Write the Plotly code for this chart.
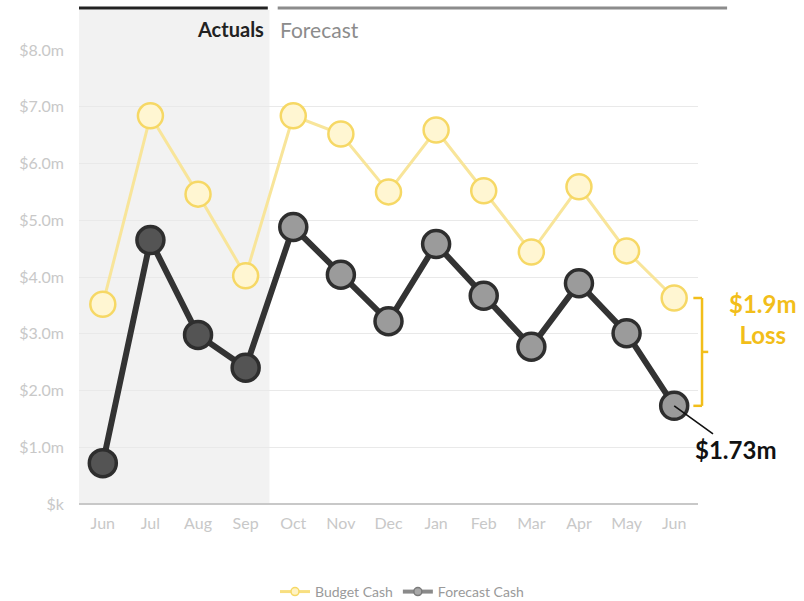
import plotly.graph_objects as go

# Monthly cash figures ($m), Jun through the following Jun
months = ["Jun", "Jul", "Aug", "Sep", "Oct", "Nov", "Dec",
          "Jan", "Feb", "Mar", "Apr", "May", "Jun"]
budget_cash = [3.52, 6.84, 5.46, 4.02, 6.84, 6.52, 5.50,
               6.59, 5.52, 4.44, 5.59, 4.46, 3.63]
forecast_cash = [0.72, 4.65, 2.98, 2.40, 4.88, 4.04, 3.22,
                 4.58, 3.67, 2.77, 3.89, 3.01, 1.73]
n_actual = 4  # first four months are actuals, the rest forecast

y_tickvals = [0, 1, 2, 3, 4, 5, 6, 7, 8]
y_ticktext = ["$k", "$1.0m", "$2.0m", "$3.0m", "$4.0m",
              "$5.0m", "$6.0m", "$7.0m", "$8.0m"]

FONT = "Lato"
GOLD = "#F2BE1A"
xs = list(range(len(months)))

fig = go.Figure()

# Budget line
fig.add_trace(go.Scatter(
    x=xs, y=budget_cash, mode="lines+markers", showlegend=False,
    line=dict(color="#F8E59A", width=3),
    marker=dict(size=25, color="#FFF6D2",
                line=dict(color="#F6D865", width=2.5)),
    hoverinfo="skip",
))

# Forecast line (actual months darker)
fill_cols = ["#545454" if i < n_actual else "#9B9B9B" for i in xs]
fig.add_trace(go.Scatter(
    x=xs, y=forecast_cash, mode="lines+markers", showlegend=False,
    line=dict(color="#333333", width=6),
    marker=dict(size=27, color=fill_cols,
                line=dict(color="#2E2E2E", width=3.5)),
    hoverinfo="skip",
))

# Legend entries
fig.add_trace(go.Scatter(
    x=[None], y=[None], mode="lines+markers", name="Budget Cash",
    line=dict(color="#F8DF80", width=3),
    marker=dict(size=8, color="#FFF3C4", line=dict(color="#F6D865", width=1.5)),
))
fig.add_trace(go.Scatter(
    x=[None], y=[None], mode="lines+markers", name="Forecast Cash",
    line=dict(color="#8A8A8A", width=4),
    marker=dict(size=8, color="#A8A8A8", line=dict(color="#7A7A7A", width=1.5)),
))

shapes = []
# Shaded actuals period
shapes.append(dict(type="rect", xref="x", yref="paper",
                   x0=-0.5, x1=n_actual - 0.5, y0=0, y1=1.088,
                   fillcolor="#F2F2F2", line=dict(width=0), layer="below"))
# Period header bars
shapes.append(dict(type="line", xref="paper", yref="paper",
                   x0=0, x1=0.305, y0=1.0925, y1=1.0925,
                   line=dict(color="#222222", width=3)))
shapes.append(dict(type="line", xref="paper", yref="paper",
                   x0=0.321, x1=1.047, y0=1.0925, y1=1.0925,
                   line=dict(color="#8C8C8C", width=3)))

# Loss bracket between budget and forecast in the final month
top = budget_cash[-1]
bot = forecast_cash[-1]
mid = (top + bot) / 2
bx = 1.0065
shapes.append(dict(type="line", xref="paper", yref="y",
                   x0=bx, x1=bx, y0=bot, y1=top,
                   line=dict(color=GOLD, width=2.5)))
shapes.append(dict(type="line", xref="paper", yref="y",
                   x0=bx - 0.014, x1=bx, y0=top, y1=top,
                   line=dict(color=GOLD, width=2.5)))
shapes.append(dict(type="line", xref="paper", yref="y",
                   x0=bx - 0.014, x1=bx, y0=bot, y1=bot,
                   line=dict(color=GOLD, width=2.5)))
shapes.append(dict(type="line", xref="paper", yref="y",
                   x0=bx, x1=bx + 0.01, y0=mid, y1=mid,
                   line=dict(color=GOLD, width=2.5)))

annotations = [
    dict(xref="x", yref="paper", x=n_actual - 0.5, y=1.046,
         xanchor="right", yanchor="middle", xshift=-3, showarrow=False,
         text="<b>Actuals</b>", font=dict(family=FONT, size=20, color="#222222")),
    dict(xref="x", yref="paper", x=n_actual - 0.5, y=1.046,
         xanchor="left", yanchor="middle", xshift=9, showarrow=False,
         text="Forecast", font=dict(family=FONT, size=21, color="#8C8C8C")),
    dict(xref="paper", yref="y", x=1.105, y=top, xanchor="center",
         yanchor="top", yshift=11, showarrow=False,
         text=f"<b>${top - bot:.1f}m<br>Loss</b>",
         font=dict(family=FONT, size=24, color=GOLD)),
    dict(xref="x", yref="y", x=xs[-1], y=bot, ax=61, ay=44,
         showarrow=True, arrowhead=0, arrowwidth=1.6, arrowcolor="#111111",
         text=f"<b>${bot:.2f}m</b>",
         font=dict(family=FONT, size=24, color="#111111")),
]

fig.update_layout(
    width=804, height=601,
    margin=dict(l=79, r=106, t=50, b=97),
    paper_bgcolor="white", plot_bgcolor="rgba(0,0,0,0)",
    font=dict(family=FONT),
    shapes=shapes, annotations=annotations,
    showlegend=True,
    legend=dict(orientation="h", xref="container", yref="container",
                x=0.5, y=0.015, xanchor="center", yanchor="middle",
                font=dict(family=FONT, size=14, color="#9A9A9A"),
                itemwidth=30, tracegroupgap=0),
)
fig.update_xaxes(
    range=[-0.5, len(months) - 0.5], tickvals=xs, ticktext=months,
    showgrid=False, zeroline=False, showline=False, ticks="",
    tickfont=dict(family=FONT, size=16, color="#C8C8C8"),
    ticklabelstandoff=8,
)
fig.update_yaxes(
    range=[0, 8], tickvals=y_tickvals, ticktext=y_ticktext,
    showgrid=True, gridcolor="#E9E9E9", gridwidth=1,
    zeroline=True, zerolinecolor="#C8C8C8", zerolinewidth=1.5,
    showline=False, ticks="",
    tickfont=dict(family=FONT, size=16, color="#C8C8C8"),
    ticklabelstandoff=14,
)

fig.write_html("out.html")
